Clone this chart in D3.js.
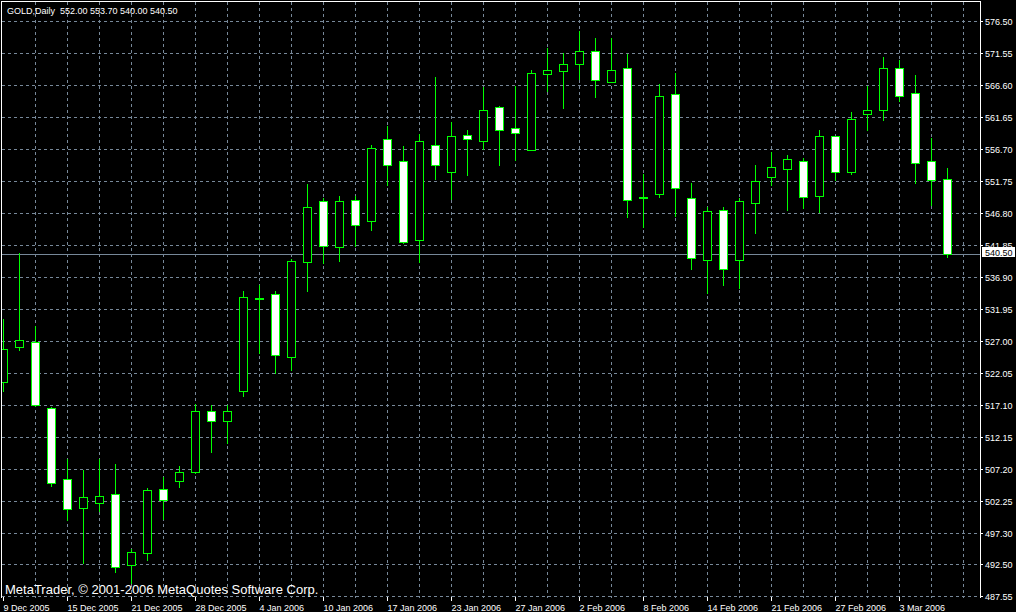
<!DOCTYPE html>
<html lang="en">
<head>
    <meta charset="UTF-8">
    <title>GOLD Daily</title>
    <script src="https://cdnjs.cloudflare.com/ajax/libs/d3/7.8.5/d3.min.js"></script>
    <style>
        html, body { margin: 0; padding: 0; background: #000; }
        svg { display: block; }
        text { font-family: "Liberation Sans", Arial, sans-serif; fill: #fff; }
    </style>
</head>
<body>

<div id="chart-container"></div>

<script>
    // daily bars, 9 Dec 2005 - 8 Mar 2006
    const dates = [
        "9 Dec 2005", "12 Dec 2005", "13 Dec 2005", "14 Dec 2005", "15 Dec 2005", "16 Dec 2005",
        "19 Dec 2005", "20 Dec 2005", "21 Dec 2005", "22 Dec 2005", "23 Dec 2005", "27 Dec 2005",
        "28 Dec 2005", "29 Dec 2005", "30 Dec 2005", "3 Jan 2006", "4 Jan 2006", "5 Jan 2006",
        "6 Jan 2006", "9 Jan 2006", "10 Jan 2006", "11 Jan 2006", "12 Jan 2006", "13 Jan 2006",
        "17 Jan 2006", "18 Jan 2006", "19 Jan 2006", "20 Jan 2006", "23 Jan 2006", "24 Jan 2006",
        "25 Jan 2006", "26 Jan 2006", "27 Jan 2006", "30 Jan 2006", "31 Jan 2006", "1 Feb 2006",
        "2 Feb 2006", "3 Feb 2006", "6 Feb 2006", "7 Feb 2006", "8 Feb 2006", "9 Feb 2006",
        "10 Feb 2006", "13 Feb 2006", "14 Feb 2006", "15 Feb 2006", "16 Feb 2006", "17 Feb 2006",
        "21 Feb 2006", "22 Feb 2006", "23 Feb 2006", "24 Feb 2006", "27 Feb 2006", "28 Feb 2006",
        "1 Mar 2006", "2 Mar 2006", "3 Mar 2006", "6 Mar 2006", "7 Mar 2006", "8 Mar 2006"
    ];

    const open = [
        520.60, 526.00, 526.80, 516.70, 505.60, 501.10, 501.90, 503.30, 492.30, 494.20,
        504.10, 505.30, 506.70, 516.20, 514.60, 519.20, 533.60, 534.20, 524.60, 539.20,
        548.60, 541.60, 548.80, 545.60, 558.30, 554.80, 542.60, 557.30, 553.10, 558.80,
        557.90, 563.20, 559.90, 556.60, 568.30, 568.70, 569.80, 571.80, 567.10, 569.30,
        549.10, 549.70, 565.20, 549.10, 539.60, 547.20, 539.60, 548.30, 552.30, 553.60,
        554.80, 549.40, 558.70, 553.10, 562.10, 562.70, 569.30, 565.30, 554.80, 552.00
    ];
    const high = [
        530.40, 540.60, 529.30, 516.80, 508.80, 507.00, 508.80, 508.00, 494.90, 504.20,
        506.00, 507.60, 517.20, 517.10, 517.10, 534.80, 535.60, 534.70, 539.70, 551.30,
        549.10, 549.40, 549.50, 557.30, 560.30, 557.20, 559.00, 567.80, 560.80, 559.60,
        566.30, 563.40, 566.50, 568.90, 572.30, 571.50, 575.00, 573.90, 573.80, 571.40,
        552.80, 566.70, 568.50, 551.40, 547.80, 547.70, 549.10, 554.20, 556.20, 555.80,
        555.30, 559.60, 558.70, 562.40, 566.40, 570.90, 570.40, 568.10, 558.40, 553.70
    ];
    const low = [
        519.20, 525.60, 517.00, 504.60, 499.30, 492.70, 500.70, 491.30, 489.50, 493.20,
        499.40, 504.40, 506.60, 509.80, 511.20, 518.50, 525.20, 522.00, 522.50, 534.80,
        539.10, 539.30, 541.70, 544.10, 551.20, 542.20, 539.20, 552.10, 549.00, 552.70,
        556.70, 554.30, 555.00, 556.50, 565.70, 563.10, 567.60, 564.80, 567.00, 546.20,
        544.70, 549.20, 546.30, 538.10, 534.50, 535.70, 535.20, 543.70, 551.10, 547.20,
        547.50, 547.00, 551.90, 552.80, 559.60, 561.20, 564.20, 551.50, 548.10, 540.00
    ];
    const close = [
        525.70, 527.20, 517.10, 505.10, 501.00, 502.80, 503.00, 492.00, 494.30, 503.90,
        502.40, 506.70, 516.10, 514.70, 516.10, 533.80, 533.70, 524.80, 539.30, 547.80,
        541.70, 548.60, 545.00, 556.80, 554.30, 542.30, 557.90, 554.20, 558.70, 558.20,
        562.80, 559.60, 559.10, 568.40, 568.90, 569.80, 571.80, 567.30, 568.90, 548.80,
        549.20, 564.90, 550.60, 539.80, 547.10, 538.20, 548.60, 551.70, 553.90, 555.10,
        549.20, 558.70, 553.20, 561.30, 562.70, 569.20, 564.90, 554.60, 551.90, 540.50
    ];

    const priceTicks = [
        576.50, 571.55, 566.60, 561.65, 556.70, 551.75, 546.80, 541.85, 536.90, 531.95,
        527.00, 522.05, 517.10, 512.15, 507.20, 502.25, 497.30, 492.50, 487.55
    ];
    const lastPrice = 540.50;
    const title = "GOLD,Daily  552.00 553.70 540.00 540.50";
    const copyright = "MetaTrader, \u00A9 2001-2006 MetaQuotes Software Corp.";

    const width = 1016;
    const height = 612;
    const frame = { left: 1, top: 1, right: 980, bottom: 597 };

    const gridColor = "#778899";
    const candleColor = "#00ff00";

    const svg = d3.select("#chart-container")
        .append("svg")
        .attr("width", width)
        .attr("height", height)
        .attr("shape-rendering", "crispEdges");

    svg.append("rect")
        .attr("width", width)
        .attr("height", height)
        .attr("fill", "#000");

    // bar index -> pixel column, price -> pixel row
    const x = d3.scaleLinear().domain([0, dates.length - 1]).range([3, 3 + 16 * (dates.length - 1)]);
    const y = d3.scaleLinear().domain([576.5, 487.4]).range([21, 597]);
    const row = v => Math.round(y(v));

    // grid
    const grid = svg.append("g")
        .attr("stroke", gridColor)
        .attr("stroke-dasharray", "3,3");

    grid.selectAll(".hgrid")
        .data(priceTicks)
        .enter()
        .append("line")
        .attr("x1", frame.left + 1)
        .attr("x2", frame.right)
        .attr("y1", d => row(d) + 0.5)
        .attr("y2", d => row(d) + 0.5);

    grid.selectAll(".vgrid")
        .data(d3.range(2, dates.length + 1, 2))
        .enter()
        .append("line")
        .attr("x1", d => x(d) + 0.5)
        .attr("x2", d => x(d) + 0.5)
        .attr("y1", frame.top + 1)
        .attr("y2", frame.bottom + 1);

    // current price line
    svg.append("line")
        .attr("x1", frame.left + 1)
        .attr("x2", frame.right)
        .attr("y1", row(lastPrice) + 0.5)
        .attr("y2", row(lastPrice) + 0.5)
        .attr("stroke", gridColor);

    // candles
    svg.append("clipPath")
        .attr("id", "plot-clip")
        .append("rect")
        .attr("x", frame.left + 1)
        .attr("y", frame.top + 1)
        .attr("width", frame.right - frame.left - 1)
        .attr("height", frame.bottom - frame.top);

    const bars = dates.map((d, i) => ({ i, o: open[i], h: high[i], l: low[i], c: close[i] }));

    const candles = svg.append("g")
        .attr("clip-path", "url(#plot-clip)")
        .selectAll(".candle")
        .data(bars)
        .enter()
        .append("g")
        .attr("class", "candle");

    candles.append("line")
        .attr("x1", d => x(d.i) + 0.5)
        .attr("x2", d => x(d.i) + 0.5)
        .attr("y1", d => row(d.h))
        .attr("y2", d => row(d.l) + 1)
        .attr("stroke", candleColor);

    candles.append("rect")
        .attr("x", d => x(d.i) - 3.5)
        .attr("width", 8)
        .attr("y", d => row(Math.max(d.o, d.c)) + 0.5)
        .attr("height", d => Math.max(1, row(Math.min(d.o, d.c)) - row(Math.max(d.o, d.c))))
        .attr("fill", d => d.c > d.o ? "#000" : "#fff")
        .attr("stroke", candleColor);

    // frame
    svg.append("path")
        .attr("d", `M${frame.left + 0.5},${frame.bottom + 1}V${frame.top + 0.5}H${frame.right + 0.5}V${frame.bottom + 1}`)
        .attr("fill", "none")
        .attr("stroke", "#fff");

    // price axis
    const yAxis = svg.append("g")
        .attr("transform", `translate(${frame.right},0)`)
        .call(d3.axisRight(y)
            .tickValues(priceTicks)
            .tickSize(3)
            .tickPadding(2)
            .tickFormat(d => d.toFixed(2)));
    yAxis.select(".domain").remove();
    yAxis.selectAll(".tick line").attr("stroke", "#fff");
    yAxis.selectAll(".tick text")
        .attr("fill", "#fff")
        .attr("font-size", 9)
        .attr("font-family", "Liberation Sans, Arial, sans-serif")
        .attr("dy", null)
        .attr("y", 3.5);

    // date axis
    const xAxis = svg.append("g")
        .attr("transform", `translate(0,${frame.bottom})`)
        .call(d3.axisBottom(x)
            .tickValues(d3.range(0, dates.length, 4))
            .tickSize(4)
            .tickFormat(i => dates[i]));
    xAxis.select(".domain").remove();
    xAxis.selectAll(".tick line").attr("stroke", "#fff");
    xAxis.selectAll(".tick text")
        .attr("fill", "#fff")
        .attr("font-size", 9)
        .attr("font-family", "Liberation Sans, Arial, sans-serif")
        .attr("text-anchor", "start")
        .attr("dy", null)
        .attr("x", 0)
        .attr("y", 14);

    // last price marker
    svg.append("rect")
        .attr("x", frame.right + 2)
        .attr("y", row(lastPrice) - 7)
        .attr("width", 33)
        .attr("height", 10)
        .attr("fill", "#fff");
    svg.append("text")
        .attr("x", frame.right + 5)
        .attr("y", row(lastPrice) + 1.5)
        .attr("font-size", 9)
        .style("fill", "#000")
        .text(lastPrice.toFixed(2));

    // captions
    svg.append("text")
        .attr("x", 7)
        .attr("y", 14)
        .attr("font-size", 9)
        .style("white-space", "pre")
        .text(title);

    svg.append("text")
        .attr("x", 5)
        .attr("y", 593.5)
        .attr("font-size", 13)
        .text(copyright);
</script>
</body>
</html>
